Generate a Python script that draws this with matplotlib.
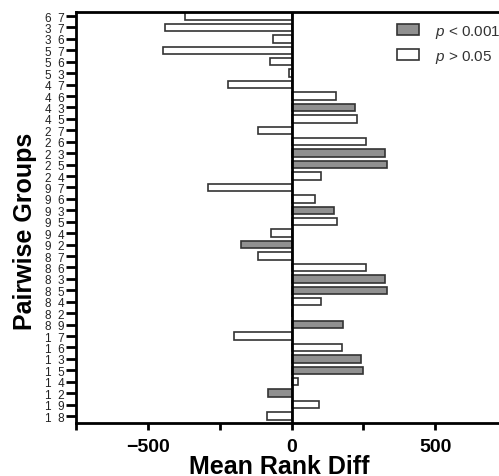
import numpy as np
import matplotlib
matplotlib.use("Agg")
import matplotlib.pyplot as plt
from matplotlib.patches import Patch

plt.rcParams.update({'font.family': 'Liberation Sans'})
plt.rcParams.update({'mathtext.fontset': 'custom'})
plt.rcParams.update({'mathtext.it': 'Liberation Sans:italic'})
plt.rcParams.update({'mathtext.rm': 'Liberation Sans'})

# pairwise groups, top to bottom
groups = ['67', '37', '36', '57', '56', '53', '47', '46', '43', '45', '27', '26',
          '23', '25', '24', '97', '96', '93', '95', '94', '92', '87', '86', '83',
          '85', '84', '82', '89', '17', '16', '13', '15', '14', '12', '19', '18']
mean_rank_diff = [-372, -440, -65, -447, -75, -9, -220, 155, 221, 229, -117, 259,
                  324, 333, 104, -292, 82, 148, 157, -71, -176, -116, 259, 324,
                  333, 104, 0, 178, -200, 175, 242, 250, 22, -83, 94, -84]
significant = [0, 0, 0, 0, 0, 0, 0, 0, 1, 0, 0, 0,
               1, 1, 0, 0, 0, 1, 0, 0, 1, 0, 0, 1,
               1, 0, 0, 1, 0, 0, 1, 1, 0, 1, 0, 0]
legend_labels = [r'$p$ < 0.001', r'$p$ > 0.05']

gray = '#909090'
edge = '#333333'

fig = plt.figure(figsize=(4.99, 4.77), dpi=100)
ax = fig.add_axes([76/499, 53/477, 431/499, 411/477])

ypos = np.arange(len(groups))
fills = [gray if s else 'white' for s in significant]
ax.barh(ypos, mean_rank_diff, height=0.65, color=fills, edgecolor=edge, linewidth=1.2)
ax.axvline(0, color='black', lw=2, zorder=3)

ax.set_ylim(35.61, -0.35)
ax.set_xlim(-750, 750)
ax.set_yticks(ypos)
ax.set_yticklabels([g[0] + '  ' + g[1] for g in groups], fontsize=8.5, color='#222222')
ax.set_xticks([-750, -500, -250, 0, 250, 500, 750])
ax.set_xticklabels(['', '\u2212500', '', '0', '', '500', ''], fontsize=14, fontweight='bold')
ax.tick_params(axis='y', length=7, width=2, pad=1)
ax.tick_params(axis='x', length=5, width=2, pad=6)
for s in ax.spines.values():
    s.set_linewidth(2)

ax.set_xlabel('Mean Rank Diff', fontsize=18, fontweight='bold')
ax.xaxis.set_label_coords(203/431, -31/411, transform=ax.transAxes)
ax.set_ylabel('Pairwise Groups', fontsize=18, fontweight='bold')
ax.yaxis.set_label_coords(-39/431, 193/411, transform=ax.transAxes)

handles = [Patch(facecolor=gray, edgecolor=edge, linewidth=1.2),
           Patch(facecolor='white', edgecolor=edge, linewidth=1.2)]
leg = fig.legend(handles, legend_labels, loc='upper left', bbox_to_anchor=(391/499, 1 - 18/477),
                 frameon=False, fontsize=11, handlelength=1.45, handleheight=0.7,
                 handletextpad=1.0, labelspacing=0.5, borderaxespad=0)
for t in leg.get_texts():
    t.set_color('#333333')

fig.savefig('out.png', dpi=100)
